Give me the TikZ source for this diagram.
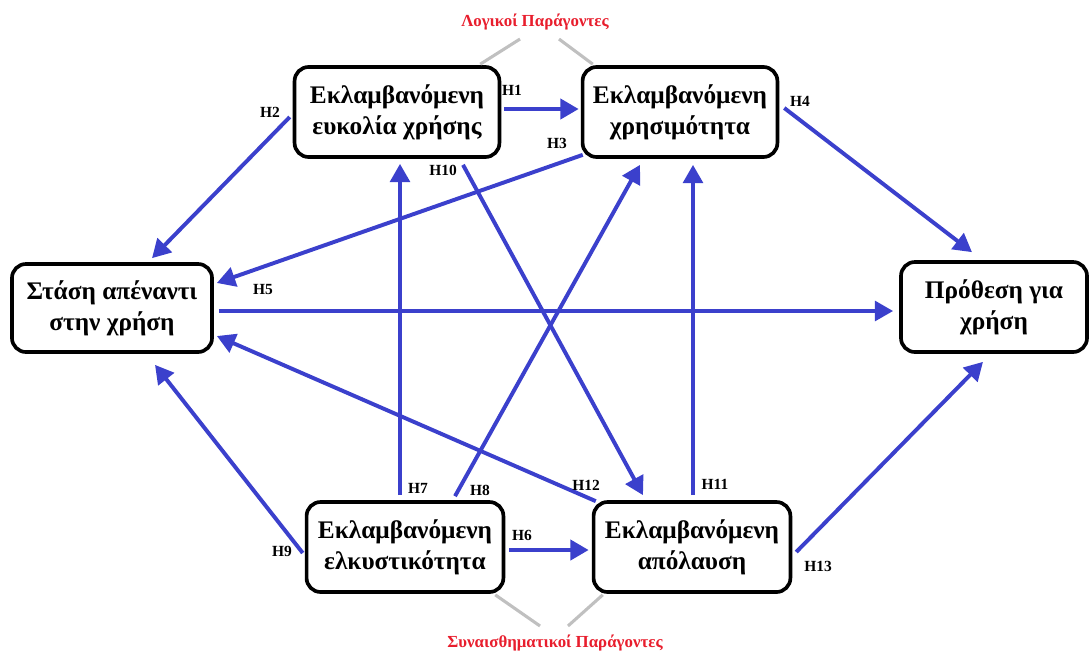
\documentclass[tikz,border=0pt]{standalone}
\usepackage{fontspec}
\setmainfont{Liberation Serif}
\usetikzlibrary{arrows.meta,calc}
\definecolor{arrowblue}{RGB}{59,64,204}
\definecolor{factorred}{RGB}{232,30,45}
\definecolor{linkgray}{RGB}{192,192,192}

\begin{document}
\begin{tikzpicture}[x=0.025cm, y=-0.025cm,
  construct/.style={draw, line width=2.6pt, rounded corners=10pt, align=center, inner sep=0pt,
    minimum height=2.25cm, font=\bfseries\fontsize{18}{22}\selectfont},
  hyp/.style={arrowblue, line width=2.8pt, -{Triangle[length=13pt,width=14pt]}},
  hlabel/.style={font=\bfseries\fontsize{11}{11}\selectfont},
  factor/.style={text=factorred, font=\bfseries\fontsize{12}{12}\selectfont},
  factorlink/.style={linkgray, line width=2.2pt}]
  \useasboundingbox (0,0) rectangle (1091,654);

  \node[construct, minimum width=5.12cm] (eu) at (397,112) {Εκλαμβανόμενη\\ευκολία χρήσης};
  \node[construct, minimum width=4.87cm] (pu) at (680,112) {Εκλαμβανόμενη\\χρησιμότητα};
  \node[construct, minimum width=5cm, minimum height=2.2cm] (att) at (112,308) {Στάση απέναντι\\στην χρήση};
  \node[construct, minimum width=4.65cm] (int) at (994,307) {Πρόθεση για\\χρήση};
  \node[construct, minimum width=4.92cm] (attr) at (405,547) {Εκλαμβανόμενη\\ελκυστικότητα};
  \node[construct, minimum width=4.92cm] (enj) at (692,547) {Εκλαμβανόμενη\\απόλαυση};

  \node[factor] (logic) at (535,22) {Λογικοί Παράγοντες};
  \node[factor] (emo) at (555,643) {Συναισθηματικοί Παράγοντες};
  \draw[factorlink] ($(logic.south)+(-15,4)$) -- ($(eu.north east)+(-21,-1)$);
  \draw[factorlink] ($(logic.south)+(24,4)$) -- ($(pu.north west)+(12,-1)$);
  \draw[factorlink] ($(emo.north)+(-15,-4)$) -- ($(attr.south east)+(-10,1)$);
  \draw[factorlink] ($(emo.north)+(13,-4)$) -- ($(enj.south west)+(11,1)$);

  \draw[hyp, line width=3.4pt] ($(eu.east)+(3,-3)$) -- ($(pu.west)+(-2,-3)$);
  \draw[hyp] ($(eu.west)+(-3,5)$) -- ($(att.north)+(40,-4)$);
  \draw[hyp] ($(pu.south west)+(2,-4)$) -- ($(att.east)+(3,-25)$);
  \draw[hyp] ($(pu.east)+(5,-4)$) -- ($(int.north)+(-22,-8)$);
  \draw[hyp] ($(att.east)+(5,3)$) -- ($(int.west)+(-6,4)$);
  \draw[hyp, line width=3.4pt] ($(attr.east)+(4,3)$) -- ($(enj.west)+(-3,3)$);
  \draw[hyp] ($(attr.north)+(-5,-5)$) -- ($(eu.south)+(3,5)$);
  \draw[hyp] ($(attr.north)+(50,-4)$) -- ($(pu.south)+(-40,6)$);
  \draw[hyp] ($(attr.west)+(-2,6)$) -- ($(att.south)+(43,11)$);
  \draw[hyp] ($(eu.south)+(66,6)$) -- ($(enj.north)+(-49,-5)$);
  \draw[hyp] ($(enj.north)+(1,-5)$) -- ($(pu.south)+(13,6)$);
  \draw[hyp] ($(enj.north west)+(4,1)$) -- ($(att.east)+(3,28)$);
  \draw[hyp] ($(enj.east)+(4,5)$) -- ($(int.south)+(-11,8)$);

  \node[hlabel] (h1) at (512,90) {H1};
  \node[hlabel] (h2) at (270,112) {H2};
  \node[hlabel] (h3) at (557,143) {H3};
  \node[hlabel] (h4) at (800,101) {H4};
  \node[hlabel] (h5) at (263,290) {H5};
  \node[hlabel] (h6) at (522,535) {H6};
  \node[hlabel] (h7) at (418,488) {H7};
  \node[hlabel] (h8) at (480,490) {H8};
  \node[hlabel] (h9) at (282,551) {H9};
  \node[hlabel] (h10) at (443,170) {H10};
  \node[hlabel] (h11) at (715,484) {H11};
  \node[hlabel] (h12) at (586,485) {H12};
  \node[hlabel] (h13) at (818,566) {H13};
\end{tikzpicture}
\end{document}
